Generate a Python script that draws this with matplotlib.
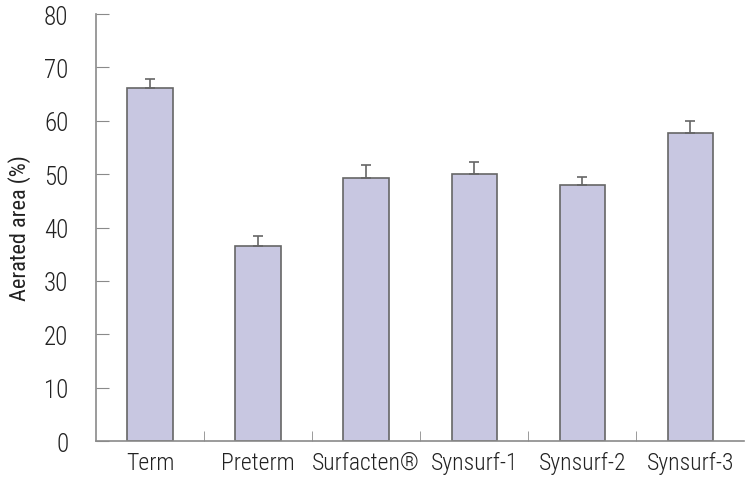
import matplotlib.pyplot as plt
import numpy as np
from matplotlib import font_manager

names = {f.name for f in font_manager.fontManager.ttflist}
fam = 'DejaVu Sans'
for cand in ['Roboto Condensed', 'Archivo Narrow', 'Barlow Condensed', 'Asap Condensed']:
    if cand in names:
        fam = cand
        break
plt.rcParams['font.family'] = [fam, 'DejaVu Sans']
plt.rcParams['font.weight'] = 'light'

categories = ['Term', 'Preterm', 'Surfacten®', 'Synsurf-1', 'Synsurf-2', 'Synsurf-3']
means = [66.2, 36.5, 49.2, 50.0, 48.0, 57.8]
errors = [1.7, 1.9, 2.6, 2.2, 1.4, 2.1]

axis_grey = '#8a8a8a'
fig = plt.figure(figsize=(7.51, 5.02), dpi=100)
ax = fig.add_axes([0.128, 0.1195, 0.863, 0.8505])

x = np.arange(len(categories))
ax.bar(x, means, width=0.42, color='#c8c7e1', edgecolor='#666666', linewidth=1.2, zorder=2)
ax.errorbar(x, means, yerr=[np.zeros(len(errors)), errors], fmt='none',
            ecolor='#666666', elinewidth=1.2, capsize=3.5, capthick=1.2, zorder=3)

ax.set_xlim(-0.5, len(categories) - 0.5)
ax.set_ylim(0, 80)
ax.set_yticks(range(0, 81, 10))
ax.tick_params(axis='y', direction='in', length=9, color=axis_grey, labelsize=18,
               labelcolor='#222222', pad=20)
ax.set_xticks(x)
ax.set_xticklabels(categories)
ax.tick_params(axis='x', which='major', length=0, labelsize=17, labelcolor='#222222', pad=7)
ax.set_xticks(np.arange(0.5, len(categories) - 0.5, 1), minor=True)
ax.tick_params(axis='x', which='minor', direction='in', length=7, color=axis_grey)

for s in ['top', 'right']:
    ax.spines[s].set_visible(False)
for s in ['left', 'bottom']:
    ax.spines[s].set_color(axis_grey)
    ax.spines[s].set_linewidth(1.2)

ax.set_ylabel('Aerated area (%)', fontsize=16, color='#222222', labelpad=9)

fig.savefig('out.png', dpi=100)
